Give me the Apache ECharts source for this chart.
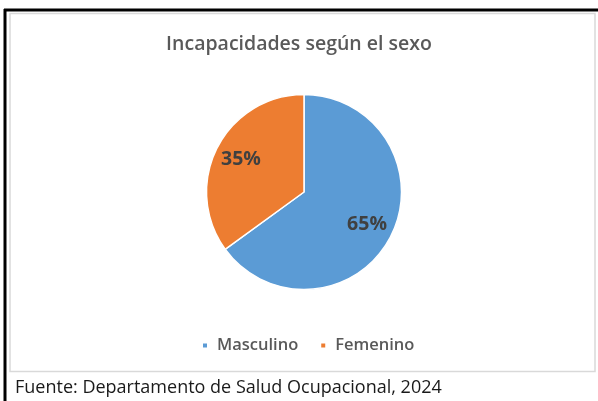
<!DOCTYPE html>
<html>
<head>
<meta charset="utf-8">
<script src="https://cdn.jsdelivr.net/npm/echarts@6/dist/echarts.min.js"></script>
<style>
  html, body { margin: 0; padding: 0; background: #fff; }
  #main { width: 598px; height: 401px; }
</style>
</head>
<body>
<div id="main"></div>
<script>
// datos del grafico
var titulo = 'Incapacidades según el sexo';
var fuente = 'Fuente: Departamento de Salud Ocupacional, 2024';
var categorias = ['Masculino', 'Femenino'];
var porcentajes = [65, 35];
var colores = ['#5B9BD5', '#ED7D31'];

var datos = categorias.map(function (c, i) {
  return { name: c, value: porcentajes[i], itemStyle: { color: colores[i] } };
});

var chart = echarts.init(document.getElementById('main'), null, { renderer: 'canvas' });

var option = {
  backgroundColor: '#ffffff',
  animation: false,
  title: {
    text: titulo,
    left: 'center',
    top: 29,
    textStyle: {
      fontFamily: 'Open Sans',
      fontWeight: 600,
      fontSize: 19.5,
      color: '#595959'
    }
  },
  legend: {
    data: categorias,
    left: 196,
    top: 332,
    icon: 'rect',
    itemWidth: 6,
    itemHeight: 6,
    itemGap: 21,
    textStyle: {
      fontFamily: 'Open Sans',
      fontWeight: 600,
      fontSize: 16.5,
      color: '#595959',
      padding: [0, 0, 0, 4]
    }
  },
  series: [
    {
      type: 'pie',
      name: 'sexo',
      center: [304, 192],
      radius: [0, 97.5],
      startAngle: 90,
      clockwise: true,
      silent: true,
      label: { show: false },
      labelLine: { show: false },
      itemStyle: { borderColor: '#ffffff', borderWidth: 1.5 },
      data: datos
    },
    {
      // capa transparente solo para colocar las etiquetas mas afuera
      type: 'pie',
      name: 'etiquetas',
      center: [304, 192],
      radius: [38, 97.5],
      startAngle: 90,
      clockwise: true,
      silent: true,
      itemStyle: { color: 'rgba(0,0,0,0)' },
      label: {
        show: true,
        position: 'inside',
        formatter: '{c}%',
        fontFamily: 'Open Sans',
        fontWeight: 'bold',
        fontSize: 19.5,
        color: '#404040'
      },
      labelLine: { show: false },
      data: categorias.map(function (c, i) { return { name: c, value: porcentajes[i] }; })
    }
  ],
  graphic: [
    { type: 'line', shape: { x1: 4, y1: 10, x2: 598, y2: 10 }, style: { stroke: '#000', lineWidth: 3 } },
    { type: 'line', shape: { x1: 5, y1: 9, x2: 5, y2: 401 }, style: { stroke: '#000', lineWidth: 3 } },
    { type: 'rect', shape: { x: 10, y: 13.5, width: 585, height: 358 }, style: { fill: 'none', stroke: '#d9d9d9', lineWidth: 1.5 } },
    {
      type: 'text',
      left: 15,
      top: 379,
      style: {
        text: fuente,
        font: '18px "Open Sans"',
        fill: '#1a1a1a'
      }
    }
  ]
};

chart.setOption(option);
</script>
</body>
</html>
